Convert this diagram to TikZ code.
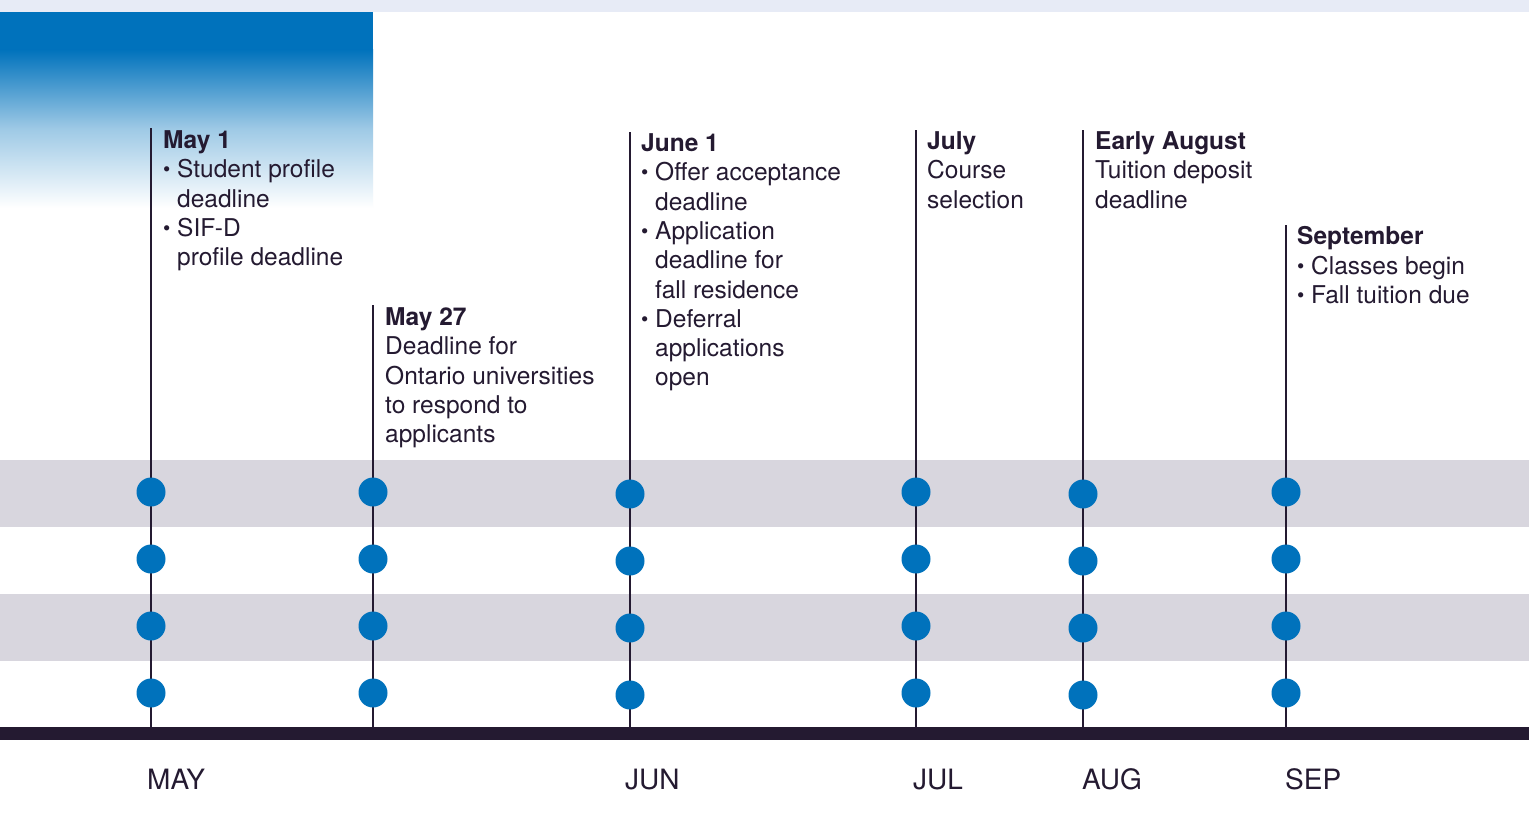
\documentclass[tikz,border=0pt]{standalone}
\usepackage{fontspec}
\setmainfont{TeX Gyre Heros}
\usepackage{graphicx}
\definecolor{bluemain}{HTML}{0072BC}
\definecolor{bandgray}{HTML}{D8D6DE}
\definecolor{topstrip}{HTML}{E7EBF6}
\definecolor{darkink}{HTML}{241A31}
\newcommand\bul{\makebox[14pt][l]{\raisebox{1pt}{\scalebox{0.85}{\textbullet}}}}
\newcommand\ind{\hspace*{14pt}}
\begin{document}
\begin{tikzpicture}[x=1pt,y=-1pt,
  dot/.style={circle,fill=bluemain,inner sep=0pt,minimum size=29pt},
  vline/.style={draw=darkink,line width=1.3pt},
  txt/.style={anchor=north west,inner sep=0pt,align=left,text=darkink,
    font=\fontsize{24.5}{29.3}\selectfont},
  month/.style={anchor=base west,inner sep=0pt,text=darkink,
    font=\fontsize{28}{31}\selectfont}]
\useasboundingbox (0,0) rectangle (1529,812);
% background
\fill[white] (0,0) rectangle (1529,812);
\fill[topstrip] (0,0) rectangle (1529,12);
\fill[bluemain] (0,12) rectangle (373,50);
\shade[top color=bluemain,bottom color=white,middle color=bluemain!38!white] (0,49.5) rectangle (373,208);
\fill[bandgray] (0,460) rectangle (1529,527);
\fill[bandgray] (0,594) rectangle (1529,661);
\fill[darkink] (0,727) rectangle (1529,740);
% columns: x, top of line, row offset
\foreach \n/\x/\t/\o in {a/151/128/0, b/373/305/0, c/630/132/2, d/916/130/0, e/1083/130/2, f/1286/225/0}{
  \coordinate (\n top) at (\x,\t);
  \coordinate (\n bot) at (\x,727);
  \draw[vline] (\n top) -- (\n bot);
  \node[dot] (\n1) at (\x,492+\o) {};
  \node[dot] (\n2) at (\x,559+\o) {};
  \node[dot] (\n3) at (\x,626+\o) {};
  \node[dot] (\n4) at (\x,693+\o) {};
}
% texts
\node[txt] (ta) at (163,130.5) {\textbf{May 1}\\\bul Student profile\\\ind deadline\\\bul SIF-D\\\ind profile deadline};
\node[txt] (tb) at (385,307.5) {\textbf{May 27}\\Deadline for\\Ontario universities\\to respond to\\applicants};
\node[txt] (tc) at (641,133.5) {\textbf{June 1}\\\bul Offer acceptance\\\ind deadline\\\bul Application\\\ind deadline for\\\ind fall residence\\\bul Deferral\\\ind applications\\\ind open};
\node[txt] (td) at (927,131.5) {\textbf{July}\\Course\\selection};
\node[txt] (te) at (1095,131.5) {\textbf{Early August}\\Tuition deposit\\deadline};
\node[txt] (tf) at (1297,226.5) {\textbf{September}\\\bul Classes begin\\\bul Fall tuition due};
% months
\node[month] (mmay) at (147,789) {MAY};
\node[month] (mjun) at (625,789) {JUN};
\node[month] (mjul) at (913,789) {JUL};
\node[month] (maug) at (1082,789) {AUG};
\node[month] (msep) at (1285,789) {SEP};
\end{tikzpicture}
\end{document}
